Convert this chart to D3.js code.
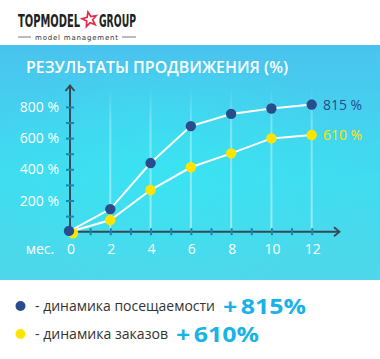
<!DOCTYPE html>
<html><head><meta charset="utf-8">
<script src="https://cdn.jsdelivr.net/npm/d3@7"></script>
<style>
html,body{margin:0;padding:0;background:#fff;}
svg{display:block;}
</style></head>
<body>
<svg id="c" width="380" height="359"></svg>
<script>
const months = [0, 2, 4, 6, 8, 10, 12];
const visits = [5, 145, 440, 677, 755, 790, 815];
const orders = [0, 75, 267, 413, 502, 598, 620];
const yTickLabels = [200, 400, 600, 800];
const endLabels = ["815 %", "610 %"];
const legendLabels = ["- динамика посещаемости", "- динамика заказов"];
const legendTotals = ["+815%", "+610%"];
const title = "РЕЗУЛЬТАТЫ ПРОДВИЖЕНИЯ (%)";

const svg = d3.select("#c");
const defs = svg.append("defs");
const bg = defs.append("linearGradient").attr("id","bg").attr("x1",0).attr("y1",0).attr("x2",0).attr("y2",1);
bg.append("stop").attr("offset","0%").attr("stop-color","#4ac3ee");
bg.append("stop").attr("offset","55%").attr("stop-color","#40dcf0");
bg.append("stop").attr("offset","100%").attr("stop-color","#4fd7ea");
const rg = defs.append("radialGradient").attr("id","glow").attr("cx","0.45").attr("cy","0.55").attr("r","0.5");
rg.append("stop").attr("offset","0%").attr("stop-color","#38e6f2").attr("stop-opacity",0.7);
rg.append("stop").attr("offset","100%").attr("stop-color","#38e6f2").attr("stop-opacity",0);
const vg = defs.append("linearGradient").attr("id","vline").attr("x1",0).attr("y1",1).attr("x2",0).attr("y2",0);
vg.append("stop").attr("offset","0%").attr("stop-color","#ffffff").attr("stop-opacity",0.45);
vg.append("stop").attr("offset","75%").attr("stop-color","#ffffff").attr("stop-opacity",0.3);
vg.append("stop").attr("offset","100%").attr("stop-color","#ffffff").attr("stop-opacity",0);

// Panel
svg.append("rect").attr("x",0).attr("y",45).attr("width",380).attr("height",235).attr("fill","url(#bg)");
svg.append("rect").attr("x",0).attr("y",45).attr("width",380).attr("height",235).attr("fill","url(#glow)");

// helper: scale text horizontally to a target width
function fitWidth(sel, x0, width){
  const w = sel.node().getComputedTextLength();
  sel.attr("transform",`translate(${x0},0) scale(${width/w},1) translate(${-x0},0)`);
}

// Logo
const logo = svg.append("g").attr("font-family","'Liberation Sans Narrow','DejaVu Sans Condensed',sans-serif");
const t1 = logo.append("text").attr("x",18).attr("y",27.5).attr("font-size",17).attr("font-weight","bold").attr("fill","#222").text("TOPMODEL");
fitWidth(t1, 18, 62);
const t2 = logo.append("text").attr("x",99).attr("y",27.5).attr("font-size",17).attr("font-weight","bold").attr("fill","#222").text("GROUP");
fitWidth(t2, 99, 37);
// star
const starPts = d3.range(10).map(i=>{const a=-Math.PI/2+i*Math.PI/5; const r=i%2?3.2:7.6; return [89.5+r*Math.cos(a), 19.5+r*Math.sin(a)];});
logo.append("path").attr("d","M"+starPts.map(p=>p.join(",")).join("L")+"Z").attr("fill","none").attr("stroke","#e8294a").attr("stroke-width",1.7).attr("transform","rotate(-12,89.5,19.5)");
logo.append("line").attr("x1",18).attr("x2",31).attr("y1",37).attr("y2",37).attr("stroke","#555").attr("stroke-width",0.8);
logo.append("line").attr("x1",122).attr("x2",136).attr("y1",37).attr("y2",37).attr("stroke","#555").attr("stroke-width",0.8);
logo.append("text").attr("x",35).attr("y",40).attr("font-size",7).attr("fill","#333").attr("font-family","'DejaVu Sans',sans-serif")
  .attr("textLength",83).attr("lengthAdjust","spacing").text("model management");

// Title
svg.append("text").attr("x",26).attr("y",73).attr("font-family","'Open Sans',sans-serif").attr("font-size",16.5)
  .attr("font-weight",600).attr("fill","#fff").attr("textLength",262).attr("lengthAdjust","spacingAndGlyphs").text(title);

// Scales
const x = d3.scaleLinear().domain([0,12]).range([70,311.7]);
const y = d3.scaleLinear().domain([0,800]).range([231.7,106.9]);

// vertical lines
svg.append("g").selectAll("rect").data(months.slice(1)).join("rect")
  .attr("x",d=>x(d)-1).attr("width",2).attr("y",88).attr("height",y(0)-88).attr("fill","url(#vline)");

// axes
const axColor = "#3b4654", tickColor = "#1687b0";
svg.append("line").attr("x1",x(0)).attr("x2",339).attr("y1",y(0)).attr("y2",y(0)).attr("stroke",axColor).attr("stroke-width",2);
svg.append("path").attr("d",`M${334},${y(0)-4.5}L${339.5},${y(0)}L${334},${y(0)+4.5}`).attr("fill","none").attr("stroke",axColor).attr("stroke-width",1.8);
svg.append("line").attr("x1",x(0)).attr("x2",x(0)).attr("y1",86).attr("y2",y(0)+1).attr("stroke",axColor).attr("stroke-width",2);
svg.append("path").attr("d",`M${x(0)-4.5},${91}L${x(0)},${85.5}L${x(0)+4.5},${91}`).attr("fill","none").attr("stroke",axColor).attr("stroke-width",1.8);

const yAxis = d3.axisLeft(y).tickValues(d3.range(100,801,100)).tickSize(0).tickFormat("");
const yg = svg.append("g").attr("transform",`translate(${x(0)},0)`).call(yAxis);
yg.select(".domain").remove();
yg.selectAll(".tick").append("line").attr("x1",-4).attr("x2",4).attr("stroke",tickColor).attr("stroke-width",2);

const xAxis = d3.axisBottom(x).tickValues(d3.range(1,13,1)).tickSize(0).tickFormat("");
const xg = svg.append("g").attr("transform",`translate(0,${y(0)})`).call(xAxis);
xg.select(".domain").remove();
xg.selectAll(".tick").append("line").attr("y1",-3.5).attr("y2",3.5).attr("stroke",tickColor).attr("stroke-width",2);

// tick labels
svg.append("g").selectAll("text").data(yTickLabels).join("text")
  .attr("x",59).attr("y",d=>y(d)+5).attr("text-anchor","end").attr("font-family","'Open Sans',sans-serif")
  .attr("font-size",14).attr("fill","#fff").text(d=>d+" %");
svg.append("g").selectAll("text").data(months).join("text")
  .attr("x",d=>x(d)+1).attr("y",254).attr("text-anchor","middle").attr("font-family","'Open Sans',sans-serif")
  .attr("font-size",14).attr("fill","#fff").text(d=>d);
svg.append("text").attr("x",40).attr("y",254).attr("text-anchor","middle").attr("font-family","'Open Sans',sans-serif")
  .attr("font-size",14).attr("fill","#fff").text("мес.");

// lines
const line = d3.line().x((d,i)=>x(months[i])).y(d=>y(d));
svg.append("path").datum(orders).attr("d",line).attr("fill","none").attr("stroke","#fff").attr("stroke-width",2);
svg.append("path").datum(visits).attr("d",line).attr("fill","none").attr("stroke","#fff").attr("stroke-width",2);

svg.append("g").selectAll("circle").data(orders).join("circle")
  .attr("cx",(d,i)=>x(months[i])+(i===0?3:0)).attr("cy",(d,i)=>y(d)+(i===0?1.5:0)).attr("r",5.2).attr("fill","#ffe400");
svg.append("g").selectAll("circle").data(visits).join("circle")
  .attr("cx",(d,i)=>x(months[i])-(i===0?1:0)).attr("cy",d=>y(d)).attr("r",5.2).attr("fill","#284c8c");

// end labels
svg.append("text").attr("x",323).attr("y",y(visits[6])+5).attr("font-family","'Open Sans',sans-serif").attr("font-size",14.5)
  .attr("fill","#284c8c").attr("textLength",39).attr("lengthAdjust","spacingAndGlyphs").text(endLabels[0]);
svg.append("text").attr("x",323).attr("y",y(orders[6])+5).attr("font-family","'Open Sans',sans-serif").attr("font-size",14.5)
  .attr("fill","#ffe400").attr("textLength",39).attr("lengthAdjust","spacingAndGlyphs").text(endLabels[1]);

// legend
const legColors = ["#284c8c","#ffe400"];
const legY = [306, 334];
const legLen = [180, 133];
const legTotX = [223, 176];
legendLabels.forEach((t,i)=>{
  svg.append("circle").attr("cx",20.5).attr("cy",legY[i]).attr("r",5).attr("fill",legColors[i]);
  svg.append("text").attr("x",35).attr("y",legY[i]+5).attr("font-family","'Open Sans',sans-serif").attr("font-size",14.5)
    .attr("fill","#333").attr("textLength",legLen[i]).attr("lengthAdjust","spacingAndGlyphs").text(t);
  const tot = svg.append("text").attr("x",legTotX[i]).attr("y",legY[i]+8).attr("font-family","'Open Sans',sans-serif")
    .attr("font-size",22).attr("font-weight","bold").attr("fill","#1ab3e8");
  tot.append("tspan").text(legendTotals[i].slice(0,1));
  tot.append("tspan").attr("dx",3).text(legendTotals[i].slice(1));
  const w = tot.node().getComputedTextLength();
  tot.attr("transform",`translate(${legTotX[i]},0) scale(${83/ (w+3)},1) translate(${-legTotX[i]},0)`);
});
</script>
</body></html>
